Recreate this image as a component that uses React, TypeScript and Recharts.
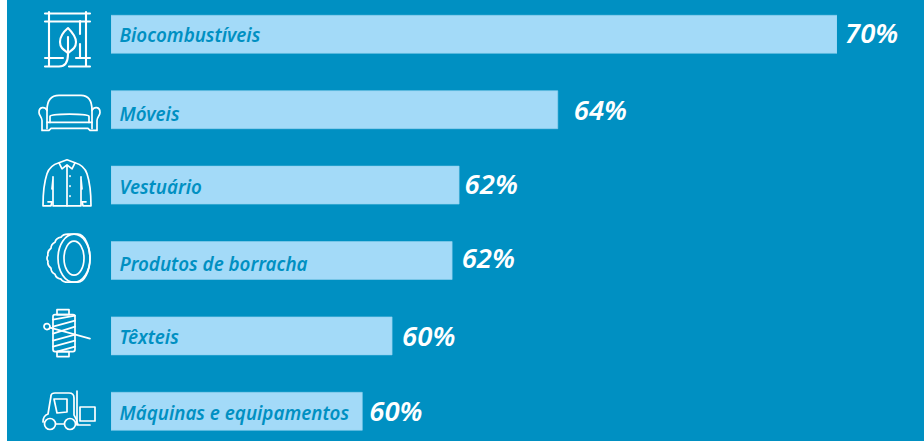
import React from "react";
import { BarChart, Bar, XAxis, YAxis, LabelList, Cell } from "recharts";

const categories = ["Biocombustíveis", "Móveis", "Vestuário", "Produtos de borracha", "Têxteis", "Máquinas e equipamentos"];
const barValues = [70, 64, 61.88, 61.73, 60.44, 59.8];
const valueLabels = ["70%", "64%", "62%", "62%", "60%", "60%"];

const data = categories.map((name, i) => ({ name, value: barValues[i], label: valueLabels[i] }));

const BG = "#0090c2";
const BAR = "#a3daf8";
const FONT = "'Noto Sans', sans-serif";

// small hand-placement nudges of the labels, in pixels
const valueDx = [8, 16, 5.5, 9.5, 10, 7];
const valueDy = [-2, -0.5, -1.5, -3.5, -0.5, -0.5];
const nameDy = [1, 4, 2, 3, 1, 2];

const Icon = ({ index }: { index: number }) => {
  const p = { fill: "none", stroke: "#fff", strokeWidth: 1.7, strokeLinecap: "round" as const, strokeLinejoin: "round" as const };
  if (index === 0)
    return (
      <g transform="translate(-23,-22)" {...p} strokeWidth={2.1}>
        <path d="M0 1.5H45M0 9.5H45M0 46H18M31 46H45M0 54.5H14C20 54.5 23 50 23 42M24 54.5H45" />
        <path d="M4 0V54M41 0V54M35 9V22M35 32V46" />
        <path d="M23 16C17 21 15 26 15 30C15 36 19 38 23 41C27 38 31 36 31 30C31 26 28 21 23 16Z" />
        <path d="M23 25V42" />
      </g>
    );
  if (index === 1)
    return (
      <g transform="translate(-29,-15)" {...p}>
        <path d="M8 16C8 6 12 1 20 1H42C50 1 53 6 53 16" />
        <path d="M8 16C6 12 0 12 0 18C0 21 3 23 3 26V36H10L12 34H49L51 36H58V26C58 23 61 21 61 18C61 12 55 12 53 16V28H8V16Z" />
        <path d="M11 28V22C11 19 50 19 50 22V28M8 28L8 34M53 28V34" />
      </g>
    );
  if (index === 2)
    return (
      <g transform="translate(-26,-26)" {...p}>
        <path d="M17 4C10 6 7 9 5 15C2 24 1 36 1 47H9L10 43H6M33 4C40 6 43 9 45 15C48 24 49 36 49 47H41L40 43H44" />
        <path d="M11 47H39V18M11 47V18M10 30L11 20M40 30L39 20" />
        <path d="M17 4L25 1L33 4L30 10L25 6L20 10ZM25 6V47" />
        <path d="M28 17V17.5M28 27V27.5M28 37V37.5" />
      </g>
    );
  if (index === 3)
    return (
      <g transform="translate(-22,-27)" {...p}>
        <path d="M22 1Q17 1 15 4Q10 5 9 9Q5 11 5 15Q1 18 2 22Q0 25 2 28Q1 32 5 35Q5 39 9 41Q10 45 15 46Q17 49 22 49H32C38 49 44 38 44 25C44 12 38 1 32 1Z" />
        <ellipse cx="28" cy="25" rx="16" ry="24" />
        <ellipse cx="28" cy="25" rx="10" ry="17" />
      </g>
    );
  if (index === 4)
    return (
      <g transform="translate(-25,-27)" {...p}>
        <rect x="14" y="1" width="12" height="5" />
        <rect x="14" y="43" width="12" height="5" />
        <rect x="10" y="6" width="22" height="37" rx="2" />
        <path d="M10 11L32 7M10 18L32 12M10 25L32 18M10 32L32 26M10 38L32 32M14 43L32 38" />
        <path d="M7 19L47 30" />
        <circle cx="4" cy="18" r="3" />
      </g>
    );
  return (
    <g transform="translate(-26,-20)" {...p}>
      <path d="M1 31C1 26 3 24 6 23L9 5C9 3 11 2 13 2H27C30 2 32 4 32 7V24C34 27 35 30 35 32" />
      <path d="M12 8H25V21L15 22Z" />
      <path d="M14 33H22M34 33H36" />
      <circle cx="8" cy="33" r="5.5" />
      <circle cx="28" cy="33" r="5.5" />
      <path d="M35 0V34H48" />
      <rect x="38" y="16" width="15" height="14" />
    </g>
  );
};

const IconTick = ({ x, y, index }: any) => (
  <g transform={`translate(${x - 35},${y})`}>
    <Icon index={index} />
  </g>
);

const NameLabel = ({ x, y, height, index }: any) => (
  <text x={x + 8.5} y={y + height / 2 + nameDy[index]} dominantBaseline="central" fill={BG}
    fontFamily={FONT} fontStyle="italic" fontWeight={600} fontSize={18.8}>
    {categories[index]}
  </text>
);

const ValueLabel = ({ x, y, width, height, index }: any) => (
  <text x={x + width + valueDx[index]} y={y + height / 2 + valueDy[index]} dominantBaseline="central" fill="#fff"
    fontFamily={FONT} fontStyle="italic" fontWeight={600} fontSize={27.5}>
    {valueLabels[index]}
  </text>
);

export default function App() {
  return (
    <div style={{ position: "fixed", left: 0, top: 0, width: 924, height: 441, overflow: "hidden", background: BG }}>
      <div style={{ position: "absolute", left: 0, top: 0, width: 7, height: 441, background: "#fff" }} />
      <div style={{ position: "absolute", left: 0, top: -10 }}>
        <BarChart width={924} height={470} layout="vertical" data={data}
          margin={{ top: 6.3, bottom: 11.3, left: 0, right: 87 }} barCategoryGap={0}>
          <XAxis type="number" domain={[54.4, 70]} hide allowDataOverflow />
          <YAxis type="category" dataKey="name" width={111} axisLine={false} tickLine={false}
            interval={0} tick={<IconTick />} />
          <Bar dataKey="value" barSize={38} fill={BAR} stroke="#8fd0ee" strokeWidth={0.6} isAnimationActive={false}>
            {data.map((d) => <Cell key={d.name} fill={BAR} />)}
            <LabelList dataKey="name" content={<NameLabel />} />
            <LabelList dataKey="label" content={<ValueLabel />} />
          </Bar>
        </BarChart>
      </div>
    </div>
  );
}
